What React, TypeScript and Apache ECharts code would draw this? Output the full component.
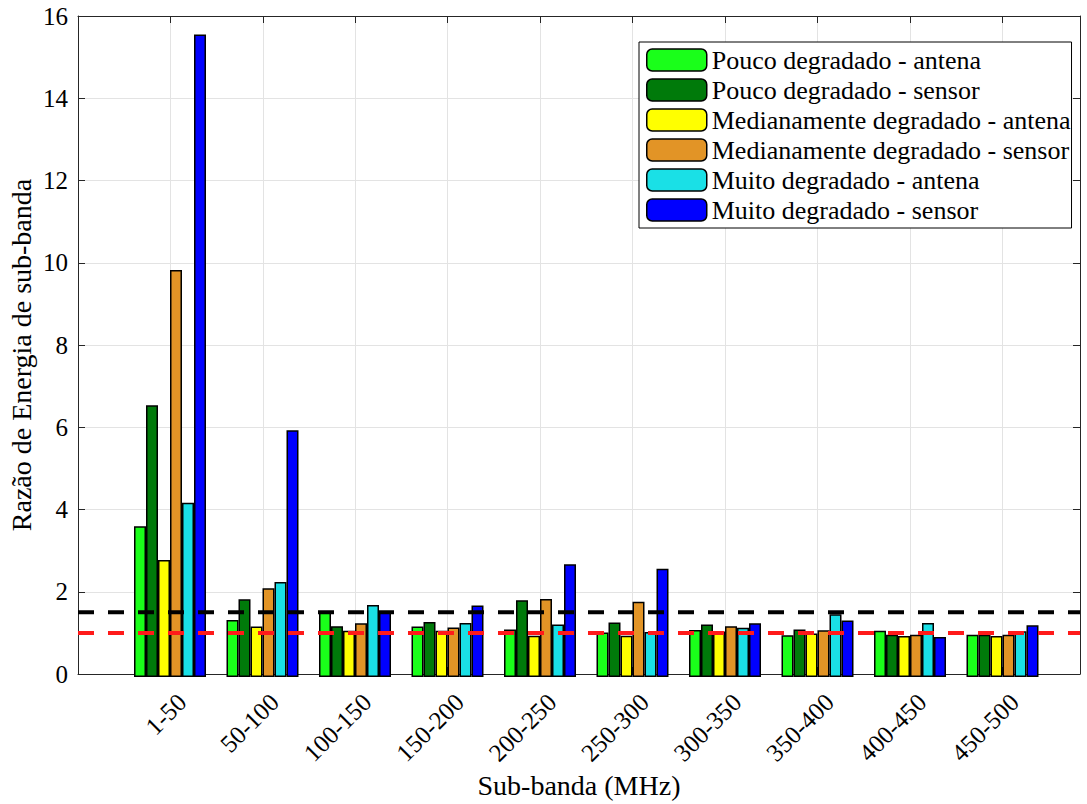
import React, { useEffect, useRef } from "react";
import * as echarts from "echarts";

const categories = ["1-50", "50-100", "100-150", "150-200", "200-250", "250-300", "300-350", "350-400", "400-450", "450-500"];
const seriesNames = [
  "Pouco degradado - antena",
  "Pouco degradado - sensor",
  "Medianamente degradado - antena",
  "Medianamente degradado - sensor",
  "Muito degradado - antena",
  "Muito degradado - sensor",
];
const poucoAntena = [3.65, 1.38, 1.60, 1.22, 1.15, 1.08, 1.14, 1.01, 1.12, 1.02];
const poucoSensor = [6.58, 1.88, 1.23, 1.33, 1.86, 1.32, 1.27, 1.15, 1.02, 1.02];
const medAntena = [2.83, 1.22, 1.12, 1.12, 1.00, 1.00, 1.10, 1.05, 0.99, 0.99];
const medSensor = [9.85, 2.15, 1.30, 1.20, 1.89, 1.82, 1.23, 1.13, 1.02, 1.02];
const muitoAntena = [4.22, 2.30, 1.74, 1.31, 1.27, 1.09, 1.19, 1.52, 1.31, 1.11];
const muitoSensor = [15.55, 5.97, 1.58, 1.73, 2.73, 2.62, 1.30, 1.37, 0.97, 1.25];
const colors = ["#1aff1a", "#007a0a", "#ffff00", "#e29426", "#1ae0e6", "#0000ff"];
const thresholdHigh = 1.5;
const thresholdLow = 1.0;
const yTicksMax = 16;
const yTitle = "Razão de Energia de sub-banda";
const xTitle = "Sub-banda (MHz)";

const FONT = "'Liberation Serif', 'Times New Roman', serif";
const AX = "#262626";

export default function App() {
  const ref = useRef<HTMLDivElement>(null);
  useEffect(() => {
    if (!ref.current) return;
    const chart = echarts.init(ref.current, null, { renderer: "svg" });
    const values = [poucoAntena, poucoSensor, medAntena, medSensor, muitoAntena, muitoSensor];
    const xMin = -1;
    const xMax = 9.84;
    const barSeries = values.map((v, i) => ({
      name: seriesNames[i],
      type: "bar",
      xAxisIndex: 3,
      yAxisIndex: 3,
      data: v,
      barWidth: 12,
      barGap: "0%",
      itemStyle: { color: colors[i], borderColor: "#000", borderWidth: 1.5 },
      z: 3,
    }));
    const option = {
      animation: false,
      backgroundColor: "#fff",
      textStyle: { fontFamily: FONT },
      grid: [
        { left: 78, top: 16, width: 1002, height: 661 },
        { left: 135.75, top: 16, width: 925, height: 661 },
        { left: 123.75, top: 16, width: 925, height: 661 },
      ],
      graphic: [
        {
          type: "text",
          x: 21,
          y: 355,
          rotation: Math.PI / 2,
          style: {
            text: yTitle,
            fontFamily: FONT,
            fontSize: 28,
            fill: "#000",
            align: "center",
            verticalAlign: "middle",
          },
        },
      ],
      legend: {
        data: seriesNames,
        orient: "vertical",
        left: 639,
        top: 42,
        itemWidth: 60,
        itemHeight: 22,
        itemGap: 4,
        padding: [5, 1, 5, 7],
        borderColor: "#000",
        borderWidth: 1,
        backgroundColor: "#fff",
        selectedMode: false,
        itemStyle: { borderColor: "#000", borderWidth: 1.5 },
        textStyle: { fontFamily: FONT, fontSize: 26, color: "#000" },
        z: 20,
      },
      xAxis: [
        {
          gridIndex: 0,
          type: "value",
          min: xMin,
          max: xMax,
          interval: 1,
          position: "bottom",
          axisLine: { show: true, onZero: false, lineStyle: { color: AX, width: 1 } },
          axisTick: { show: true, inside: true, length: 7, lineStyle: { color: AX } },
          axisLabel: { show: false },
          splitLine: { show: true, lineStyle: { color: "#e3e3e3", width: 1 } },
          name: xTitle,
          nameLocation: "middle",
          nameGap: 97,
          nameTextStyle: { fontFamily: FONT, fontSize: 28, color: "#000" },
        },
        {
          gridIndex: 0,
          type: "value",
          min: xMin,
          max: xMax,
          interval: 1,
          position: "top",
          axisLine: { show: true, onZero: false, lineStyle: { color: AX, width: 1 } },
          axisTick: { show: true, inside: true, length: 7, lineStyle: { color: AX } },
          axisLabel: { show: false },
          splitLine: { show: false },
        },
        {
          gridIndex: 1,
          type: "category",
          data: categories,
          axisLine: { show: false },
          axisTick: { show: false },
          axisLabel: {
            show: true,
            rotate: 45,
            interval: 0,
            margin: 21,
            fontFamily: FONT,
            fontSize: 25,
            color: "#000",
          },
          splitLine: { show: false },
        },
        {
          gridIndex: 2,
          type: "category",
          data: categories,
          show: false,
        },
      ],
      yAxis: [
        {
          gridIndex: 0,
          type: "value",
          min: 0,
          max: yTicksMax,
          interval: 2,
          position: "left",
          axisLine: { show: true, onZero: false, lineStyle: { color: AX, width: 1 } },
          axisTick: { show: true, inside: true, length: 7, lineStyle: { color: AX } },
          axisLabel: { show: true, margin: 10, fontFamily: FONT, fontSize: 25, color: "#000" },
          splitLine: { show: true, lineStyle: { color: "#e3e3e3", width: 1 } },
        },
        {
          gridIndex: 0,
          type: "value",
          min: 0,
          max: yTicksMax,
          interval: 2,
          position: "right",
          axisLine: { show: true, onZero: false, lineStyle: { color: AX, width: 1 } },
          axisTick: { show: true, inside: true, length: 7, lineStyle: { color: AX } },
          axisLabel: { show: false },
          splitLine: { show: false },
        },
        { gridIndex: 1, type: "value", min: 0, max: yTicksMax, show: false },
        { gridIndex: 2, type: "value", min: 0, max: yTicksMax, show: false },
      ],
      series: [
        ...barSeries,
        {
          type: "line",
          xAxisIndex: 0,
          yAxisIndex: 0,
          data: [[xMin, thresholdHigh], [xMax, thresholdHigh]],
          symbol: "none",
          lineStyle: { color: "#000", width: 4, type: [16, 14] },
          z: 10,
          silent: true,
        },
        {
          type: "line",
          xAxisIndex: 0,
          yAxisIndex: 0,
          data: [[xMin, thresholdLow], [xMax, thresholdLow]],
          symbol: "none",
          lineStyle: { color: "#ff1a1a", width: 4, type: [16, 14] },
          z: 10,
          silent: true,
        },
      ],
    };
    chart.setOption(option as any);
    return () => chart.dispose();
  }, []);
  return (
    <div
      ref={ref}
      style={{ position: "fixed", left: 0, top: 0, width: 1087, height: 804, background: "#fff" }}
    />
  );
}
